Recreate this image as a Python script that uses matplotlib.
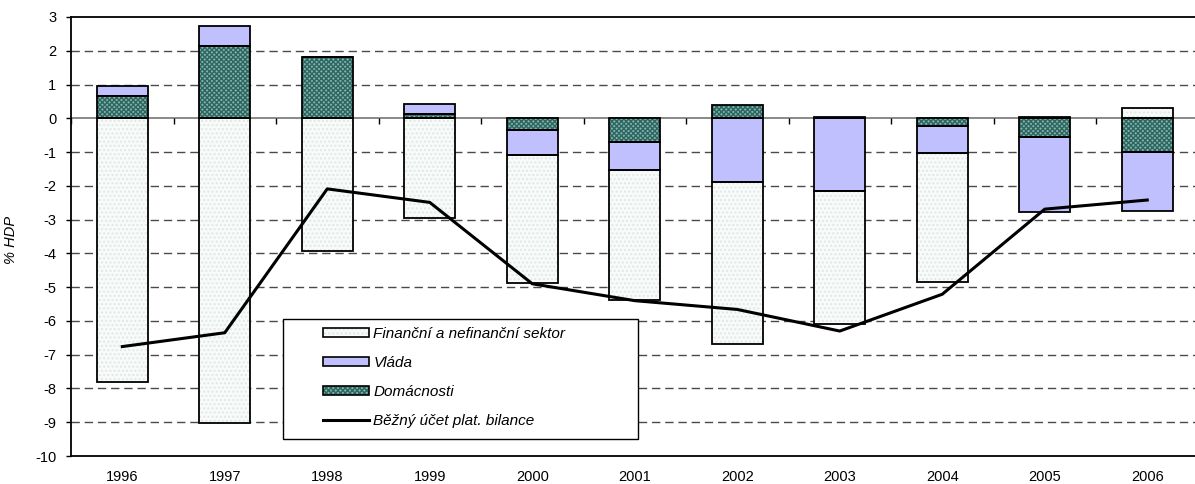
import numpy as np
import matplotlib
matplotlib.use("Agg")
import matplotlib.pyplot as plt
from matplotlib.patches import Patch, Rectangle
from matplotlib.lines import Line2D
from matplotlib.legend_handler import HandlerTuple

# data (% HDP)
years = ['1996', '1997', '1998', '1999', '2000', '2001', '2002', '2003', '2004', '2005', '2006']
fin_sektor = [-7.82, -9.02, -3.92, -2.94, -3.81, -3.86, -4.78, -3.96, -3.81, 0.05, 0.30]
vlada = [0.29, 0.61, 0.0, 0.28, -0.73, -0.81, -1.89, -2.14, -0.81, -2.23, -1.75]
domacnosti = [0.67, 2.13, 1.81, 0.14, -0.35, -0.71, 0.38, 0.03, -0.23, -0.54, -0.99]
bilance = [-6.76, -6.35, -2.09, -2.49, -4.90, -5.40, -5.66, -6.30, -5.21, -2.69, -2.42]

labels = ['Finanční a nefinanční sektor', 'Vláda', 'Domácnosti', 'Běžný účet plat. bilance']

plt.rcParams['font.family'] = ['Liberation Sans', 'DejaVu Sans']
plt.rcParams['axes.unicode_minus'] = False
plt.rcParams['hatch.linewidth'] = 1.0

fig = plt.figure(figsize=(11.95, 4.84), dpi=100)
ax = fig.add_axes([71 / 1195, 28 / 484, 1127.5 / 1195, 439 / 484])

x = np.arange(len(years))
w = 0.5

# styles: (face, hatch, hatch colour)
styles = {
    'fin': ('#f8fbfa', '....', '#dfe9e6'),
    'vlada': ('#c0c0ff', None, '#c0c0ff'),
    'dom': ('#86b0aa', 'xxxxxxx', '#2b6660'),
}

# Excel-like stacking: positives and negatives stacked separately, Domácnosti nearest zero
pos = np.zeros(len(years))
neg = np.zeros(len(years))
for key, vals in [('dom', domacnosti), ('vlada', vlada), ('fin', fin_sektor)]:
    vals = np.array(vals)
    base = np.where(vals >= 0, pos, neg)
    face, hatch, hcol = styles[key]
    ax.bar(x, vals, w, bottom=base, color=face, hatch=hatch, edgecolor=hcol, lw=0, zorder=2)
    ax.bar(x, vals, w, bottom=base, fill=False, edgecolor='black', lw=1.3, zorder=3)
    pos = np.where(vals >= 0, pos + vals, pos)
    neg = np.where(vals < 0, neg + vals, neg)

ax.plot(x, bilance, color='black', lw=2.2, zorder=5)

# grid
for yv in range(-9, 3):
    if yv != 0:
        ax.axhline(yv, color='#4a4a4a', lw=1.0, dashes=(6, 3.5), zorder=1)
ax.axhline(0, color='#808080', lw=1.3, zorder=1)
# category axis ticks on the zero line
ax.vlines(np.arange(len(years) + 1) - 0.5, -0.17, 0, color='black', lw=1.0, zorder=1)

ax.set_xlim(-0.5, len(years) - 0.5)
ax.set_ylim(-10, 3)
ax.set_yticks(range(-10, 4))
ax.set_xticks(x)
ax.set_xticklabels(years)
ax.tick_params(axis='x', length=0, pad=10, labelsize=10.5)
ax.tick_params(axis='y', direction='out', length=3.5, width=1.0, pad=7, labelsize=10.5)

ax.spines['right'].set_visible(False)
for s in ['top', 'left', 'bottom']:
    ax.spines[s].set_linewidth(1.3)

ax.set_ylabel('% HDP', fontstyle='italic', fontsize=10.5)
ax.yaxis.set_label_coords(-0.047, 0.492)

# legend
def fill_handle(key):
    face, hatch, hcol = styles[key]
    return (Patch(facecolor=face, hatch=hatch, edgecolor=hcol, lw=0),
            Patch(fill=False, edgecolor='black', lw=1.2))

handles = [fill_handle('fin'), fill_handle('vlada'), fill_handle('dom'),
           Line2D([], [], color='black', lw=2.2)]
ax.add_patch(Rectangle(((283 - 71) / 1127.5, (456 - 439) / 439), 355 / 1127.5, 120 / 439,
                       transform=ax.transAxes, facecolor='white', edgecolor='black',
                       lw=1.0, zorder=6))
leg = ax.legend(handles, labels, handler_map={tuple: HandlerTuple(ndivide=1, pad=0)},
                loc='upper left', bbox_to_anchor=((323 - 71) / 1127.5, (456 - 327) / 439),
                borderaxespad=0, borderpad=0, frameon=False, handlelength=3.0,
                handleheight=0.6, handletextpad=0.3, labelspacing=0.98,
                prop={'size': 11, 'style': 'italic'})
leg.set_zorder(7)

fig.savefig('out.png', dpi=100)
